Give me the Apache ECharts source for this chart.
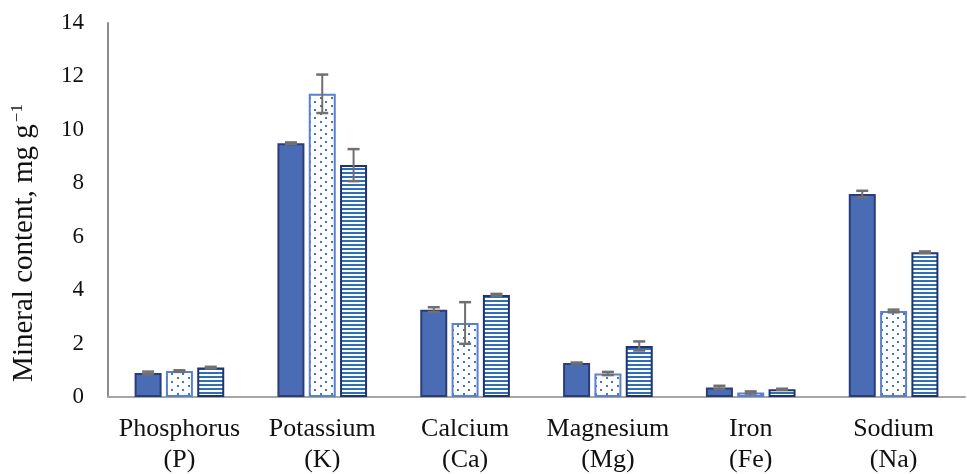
<!DOCTYPE html>
<html>
<head>
<meta charset="utf-8">
<script src="https://cdn.jsdelivr.net/npm/echarts@6/dist/echarts.min.js"></script>
<style>
  html, body { margin: 0; padding: 0; background: #fff; }
  #chart { width: 967px; height: 474px; }
</style>
</head>
<body>
<div id="chart"></div>
<script>
  // minerals on the x axis
  var categories = ["Phosphorus\n(P)", "Potassium\n(K)", "Calcium\n(Ca)", "Magnesium\n(Mg)", "Iron\n(Fe)", "Sodium\n(Na)"];
  var yTicks = [0, 2, 4, 6, 8, 10, 12, 14];

  // three treatments (solid / dotted / striped), mean values
  var solidValues = [0.9, 9.5, 3.27, 1.27, 0.36, 7.6];
  var dotValues = [0.97, 11.35, 2.77, 0.88, 0.17, 3.22];
  var stripeValues = [1.1, 8.68, 3.82, 1.91, 0.29, 5.42];

  // error bar half-widths
  var solidErr = [0.05, 0.03, 0.09, 0.02, 0.06, 0.12];
  var dotErr = [0.03, 0.72, 0.78, 0.06, 0.04, 0.05];
  var stripeErr = [0.03, 0.6, 0.04, 0.17, 0.02, 0.03];

  function makeDots() {
    var c = document.createElement("canvas");
    c.width = 11; c.height = 8;
    var ctx = c.getContext("2d");
    ctx.fillStyle = "#ffffff";
    ctx.fillRect(0, 0, 11, 8);
    ctx.fillStyle = "#4472c4";
    ctx.fillRect(1, 1, 2, 2);
    ctx.fillRect(6, 5, 2, 2);
    return c;
  }
  function makeStripes() {
    var c = document.createElement("canvas");
    c.width = 8; c.height = 4;
    var ctx = c.getContext("2d");
    ctx.fillStyle = "#ffffff";
    ctx.fillRect(0, 0, 8, 4);
    ctx.fillStyle = "#2e6fb5";
    ctx.fillRect(0, 0, 8, 2);
    return c;
  }

  var barWidth = 27;
  var barGap = "16%";

  // error bars drawn with a custom series, offset to sit on the matching bar
  function errorSeries(values, errs, offsetPx) {
    var data = values.map(function (v, i) { return [i, v - errs[i], v + errs[i]]; });
    return {
      type: "custom",
      z: 10,
      renderItem: function (params, api) {
        var lo = api.coord([api.value(0), api.value(1)]);
        var hi = api.coord([api.value(0), api.value(2)]);
        var x = lo[0] + offsetPx;
        var half = 6;
        var style = { stroke: "#707070", lineWidth: 2 };
        return {
          type: "group",
          children: [
            { type: "line", shape: { x1: x, y1: hi[1], x2: x, y2: lo[1] }, style: style },
            { type: "line", shape: { x1: x - half, y1: hi[1], x2: x + half, y2: hi[1] }, style: { stroke: "#707070", lineWidth: 2.5 } },
            { type: "line", shape: { x1: x - half, y1: lo[1], x2: x + half, y2: lo[1] }, style: { stroke: "#707070", lineWidth: 2.5 } }
          ]
        };
      },
      encode: { x: 0, y: [1, 2] },
      data: data
    };
  }

  var step = barWidth * 1.16;

  var myChart = echarts.init(document.getElementById("chart"), null, { renderer: "canvas" });
  var option = {
    animation: false,
    grid: { left: 108, right: 2, top: 23, bottom: 77, outerBoundsMode: "none", containLabel: false },
    xAxis: {
      type: "category",
      data: categories,
      axisLine: { lineStyle: { color: "#a6a6a6", width: 2 } },
      axisTick: { show: false },
      axisLabel: {
        interval: 0,
        color: "#111",
        fontFamily: "Liberation Serif",
        fontSize: 26,
        lineHeight: 31,
        margin: 17
      }
    },
    yAxis: {
      type: "value",
      min: 0,
      max: 14,
      interval: 2,
      name: "Mineral content, mg g{sup|\u22121}",
      nameLocation: "middle",
      nameGap: 68,
      nameTextStyle: {
        color: "#111",
        fontFamily: "Liberation Serif",
        fontSize: 29,
        padding: [0, 66, 0, 0],
        rich: { sup: { fontFamily: "Liberation Serif", fontSize: 17, verticalAlign: "top", padding: [0, 0, 14, 2] } }
      },
      splitLine: { show: false },
      axisLine: { show: true, lineStyle: { color: "#8c8c8c", width: 2 } },
      axisTick: { show: false },
      axisLabel: {
        color: "#111",
        fontFamily: "Liberation Serif",
        fontSize: 23,
        margin: 24,
        formatter: function (v) { return yTicks.indexOf(v) >= 0 ? String(v) : ""; }
      }
    },
    series: [
      {
        type: "bar",
        data: solidValues,
        barWidth: barWidth,
        barGap: barGap,
        itemStyle: { color: "#4a6cb5", borderColor: "#2b3d78", borderWidth: 2 }
      },
      {
        type: "bar",
        data: dotValues,
        barWidth: barWidth,
        barGap: barGap,
        itemStyle: { color: { image: makeDots(), repeat: "repeat" }, borderColor: "#5b80cf", borderWidth: 2 }
      },
      {
        type: "bar",
        data: stripeValues,
        barWidth: barWidth,
        barGap: barGap,
        itemStyle: { color: { image: makeStripes(), repeat: "repeat" }, borderColor: "#1f3370", borderWidth: 2 }
      },
      errorSeries(solidValues, solidErr, -step),
      errorSeries(dotValues, dotErr, 0),
      errorSeries(stripeValues, stripeErr, step)
    ]
  };
  myChart.setOption(option);
  window.addEventListener("resize", myChart.resize);
</script>
</body>
</html>
